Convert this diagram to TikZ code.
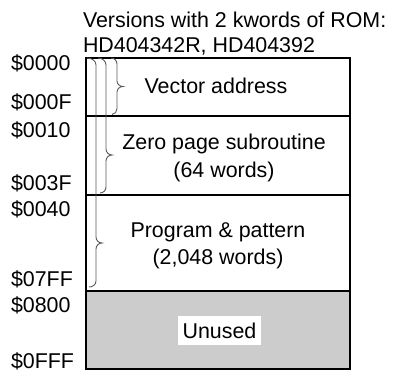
\documentclass[tikz,border=0pt]{standalone}
\usepackage{fontspec}
\setmainfont{Liberation Sans}
\definecolor{unusedgray}{RGB}{204,204,204}
\definecolor{bracegray}{RGB}{90,90,90}
\begin{document}
\begin{tikzpicture}[x=1pt,y=-1pt,
  every node/.style={font=\fontsize{21.4}{27}\selectfont, inner sep=0pt, outer sep=0pt},
  region/.style={draw=black, line width=1.6pt, minimum width=264pt, anchor=north west},
  addr/.style={anchor=base west},
  bracepath/.style={draw=bracegray, line width=0.9pt}]
\useasboundingbox (0,0) rectangle (393,374);
% memory regions
\node[region, minimum height=58pt] (vec) at (86,58) {};
\node[region, minimum height=79pt] (zp) at (86,116) {};
\node[region, minimum height=96pt] (prog) at (86,195) {};
\node[region, minimum height=78pt, fill=unusedgray] (unused) at (86,291) {};
% title
\node[anchor=base west] (title1) at (83,28) {Versions with 2 kwords of ROM:};
\node[anchor=base west] (title2) at (83,52.5) {HD404342R, HD404392};
% region texts
\node[anchor=base] (tvec) at (216,94) {Vector address};
\node[anchor=base] (tzp1) at (224,149.5) {Zero page subroutine};
\node[anchor=base] (tzp2) at (224,177) {(64 words)};
\node[anchor=base] (tprog1) at (218,237) {Program \& pattern};
\node[anchor=base] (tprog2) at (218,264) {(2,048 words)};
\node[fill=white, minimum width=83pt, minimum height=29pt] (tun) at (219.5,330.5) {Unused};
% addresses
\node[addr] (a0) at (11,70.5) {\$0000};
\node[addr] (a1) at (11,109.5) {\$000F};
\node[addr] (a2) at (11,137.5) {\$0010};
\node[addr] (a3) at (11,190.5) {\$003F};
\node[addr] (a4) at (11,216.5) {\$0040};
\node[addr] (a5) at (11,286.5) {\$07FF};
\node[addr] (a6) at (11,312.5) {\$0800};
\node[addr] (a7) at (11,368.5) {\$0FFF};
% braces
\draw[bracepath] (87,58) to[out=0,in=90] (96,65) -- (96,237)
  to[out=-90,in=180] (102,243) to[out=180,in=90] (96,249) -- (96,281)
  to[out=-90,in=0] (89,287);
\draw[bracepath] (98,58) to[out=0,in=90] (106,65) -- (106,149)
  to[out=-90,in=180] (112,155) to[out=180,in=90] (106,161) -- (106,187)
  to[out=-90,in=0] (100,193);
\draw[bracepath] (111,58) to[out=0,in=90] (117,64) -- (117,81)
  to[out=-90,in=180] (123,86.5) to[out=180,in=90] (117,92) -- (117,108.5)
  to[out=-90,in=0] (112,114.5);
\end{tikzpicture}
\end{document}
